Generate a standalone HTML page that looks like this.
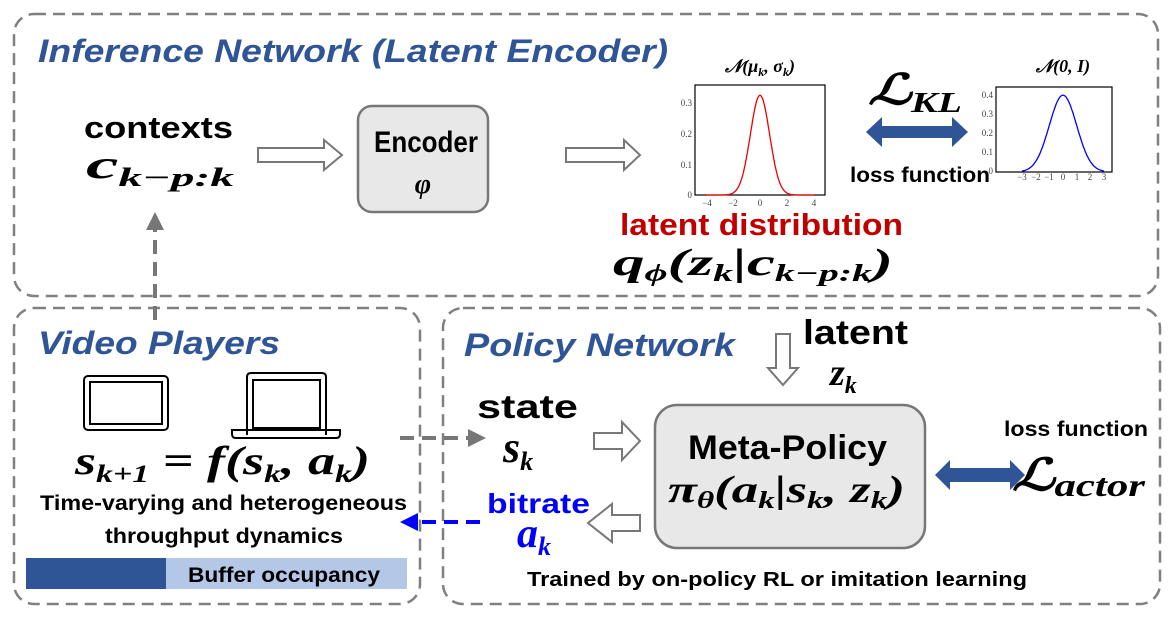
<!DOCTYPE html>
<html><head><meta charset="utf-8"><style>
html,body{margin:0;padding:0;background:#fff}
svg{display:block}
.t{font-family:"Liberation Sans",sans-serif;font-weight:bold}
.m{font-family:"Liberation Serif",serif;font-weight:bold;font-style:italic}
.h{font-family:"Liberation Sans",sans-serif;font-weight:bold;font-style:italic;fill:#2F5597}
.ax{font-family:"Liberation Serif",serif;font-size:9px;fill:#444}
</style></head><body>
<svg width="1172" height="626" viewBox="0 0 1172 626" xmlns="http://www.w3.org/2000/svg">
<g fill="none" stroke="#808080" stroke-width="2.5" stroke-dasharray="12,7">
<rect x="14" y="14" width="1144" height="282" rx="20"/>
<rect x="14" y="308" width="406" height="296" rx="20"/>
<rect x="443" y="308" width="717" height="296" rx="20"/>
</g>
<text x="38" y="62" class="h" font-size="32" textLength="630" lengthAdjust="spacingAndGlyphs">Inference Network (Latent Encoder)</text>
<text x="38" y="354" class="h" font-size="32" textLength="242" lengthAdjust="spacingAndGlyphs">Video Players</text>
<text x="464" y="356" class="h" font-size="32" textLength="271" lengthAdjust="spacingAndGlyphs">Policy Network</text>

<text x="84" y="138" class="t" font-size="31" textLength="149" lengthAdjust="spacingAndGlyphs">contexts</text>
<text x="86" y="178" class="m" font-size="40" textLength="148" lengthAdjust="spacingAndGlyphs">c<tspan font-size="26" dy="8">k−p:k</tspan></text>

<g fill="#fff" stroke="#777" stroke-width="2">
<path d="M258,148 H324 V140 L342,155 L324,170 V162 H258z"/>
<path d="M566,148 H624 V140 L640,155 L624,170 V162 H566z"/>
<path d="M776,334 H790 V368 H798 L783,385 L768,368 H776z"/>
<path d="M594,433 H622 V422 L640,441 L622,460 V449 H594z"/>
<path d="M640,515 H612 V504 L588,523 L612,542 V531 H640z"/>
</g>

<rect x="358" y="106" width="130" height="106" rx="14" fill="#e8e8e8" stroke="#777" stroke-width="2.5"/>
<text x="374" y="152" class="t" font-size="30" textLength="104" lengthAdjust="spacingAndGlyphs">Encoder</text>
<text x="423" y="193" class="m" font-size="28" text-anchor="middle">φ</text>

<text x="760" y="72" class="m" font-size="18" text-anchor="middle">𝒩(μ<tspan font-size="12" dy="4">k</tspan><tspan dy="-4">, σ</tspan><tspan font-size="12" dy="4">k</tspan><tspan dy="-4">)</tspan></text>
<rect x="695" y="85" width="130" height="110" fill="none" stroke="#000" stroke-width="1.2"/>
<path id="g1" fill="none" stroke="#e00" stroke-width="1.3"/>
<g class="ax"><text x="692" y="106" text-anchor="end">0.3</text><text x="692" y="137" text-anchor="end">0.2</text><text x="692" y="168" text-anchor="end">0.1</text><text x="692" y="198" text-anchor="end">0</text>
<text x="707" y="206" text-anchor="middle">−4</text><text x="733" y="206" text-anchor="middle">−2</text><text x="760" y="206" text-anchor="middle">0</text><text x="787" y="206" text-anchor="middle">2</text><text x="814" y="206" text-anchor="middle">4</text></g>

<text x="1063" y="72" class="m" font-size="18" text-anchor="middle">𝒩(0, I)</text>
<rect x="996" y="87" width="116" height="85" fill="none" stroke="#000" stroke-width="1.2"/>
<path id="g2" fill="none" stroke="#00f" stroke-width="1.3"/>
<g class="ax" font-size="7"><text x="993" y="98" text-anchor="end">0.4</text><text x="993" y="117" text-anchor="end">0.3</text><text x="993" y="136" text-anchor="end">0.2</text><text x="993" y="155" text-anchor="end">0.1</text><text x="993" y="174" text-anchor="end">0</text>
<text x="1022" y="180" text-anchor="middle">−3</text><text x="1036" y="180" text-anchor="middle">−2</text><text x="1049" y="180" text-anchor="middle">−1</text><text x="1063" y="180" text-anchor="middle">0</text><text x="1077" y="180" text-anchor="middle">1</text><text x="1090" y="180" text-anchor="middle">2</text><text x="1104" y="180" text-anchor="middle">3</text></g>

<text x="868" y="104" font-family="Liberation Serif,serif" font-style="italic" font-weight="bold" font-size="42" textLength="94" lengthAdjust="spacingAndGlyphs">ℒ<tspan font-size="28" dy="8">KL</tspan></text>
<path d="M866,132 L882,117 V126 H952 V117 L968,132 L952,147 V138 H882 V147z" fill="#2F5597"/>
<text x="850" y="182" class="t" font-size="21" textLength="140" lengthAdjust="spacingAndGlyphs">loss function</text>

<text x="620" y="235" class="t" font-size="31" fill="#C00000" textLength="283" lengthAdjust="spacingAndGlyphs">latent distribution</text>
<text x="613" y="275" class="m" font-size="38" textLength="280" lengthAdjust="spacingAndGlyphs">q<tspan font-size="24" dy="6">ϕ</tspan><tspan dy="-6">(z</tspan><tspan font-size="24" dy="6">k</tspan><tspan dy="-6">|c</tspan><tspan font-size="24" dy="6">k−p:k</tspan><tspan dy="-6">)</tspan></text>

<line x1="155" y1="320" x2="155" y2="228" stroke="#777" stroke-width="4" stroke-dasharray="14,8"/>
<path d="M146,230 L155,212 L164,230z" fill="#777"/>

<g fill="none" stroke="#000" stroke-width="2">
<rect x="84" y="376" width="84" height="54" rx="4"/><rect x="90" y="382" width="72" height="42"/>
<path d="M247,435 V377 Q247,373 251,373 H322 Q326,373 326,377 V435"/><rect x="253" y="380" width="67" height="48"/>
<path d="M232,430 H340 V434 Q340,438 336,438 H236 Q232,438 232,434z"/>
</g>
<text x="75" y="474" class="m" font-size="40" textLength="295" lengthAdjust="spacingAndGlyphs">s<tspan font-size="25" dy="8">k+1</tspan><tspan dy="-8"> = f(s</tspan><tspan font-size="25" dy="8">k</tspan><tspan dy="-8">, a</tspan><tspan font-size="25" dy="8">k</tspan><tspan dy="-8">)</tspan></text>
<text x="40" y="510" class="t" font-size="21" textLength="367" lengthAdjust="spacingAndGlyphs">Time-varying and heterogeneous</text>
<text x="105" y="543" class="t" font-size="21" textLength="238" lengthAdjust="spacingAndGlyphs">throughput dynamics</text>
<rect x="26" y="558" width="140" height="31" fill="#2F5597"/>
<rect x="166" y="558" width="241" height="31" fill="#B4C7E7"/>
<text x="188" y="582" class="t" font-size="21" textLength="192" lengthAdjust="spacingAndGlyphs">Buffer occupancy</text>

<line x1="400" y1="438" x2="470" y2="438" stroke="#777" stroke-width="4" stroke-dasharray="14,8"/>
<path d="M468,429 L486,438 L468,447z" fill="#777"/>
<line x1="480" y1="522" x2="418" y2="522" stroke="#00f" stroke-width="4" stroke-dasharray="14,8"/>
<path d="M418,513 L400,522 L418,531z" fill="#00f"/>

<text x="803" y="344" class="t" font-size="34" textLength="105" lengthAdjust="spacingAndGlyphs">latent</text>
<text x="830" y="385" class="m" font-size="38">z<tspan font-size="24" dy="8">k</tspan></text>
<text x="477" y="418" class="t" font-size="33" textLength="101" lengthAdjust="spacingAndGlyphs">state</text>
<text x="503" y="462" class="m" font-size="44">s<tspan font-size="26" dy="8">k</tspan></text>
<text x="487" y="513" class="t" font-size="28" fill="#0000ff" textLength="103" lengthAdjust="spacingAndGlyphs">bitrate</text>
<text x="517" y="547" class="m" font-size="42" fill="#0000ff">a<tspan font-size="26" dy="8">k</tspan></text>

<rect x="655" y="405" width="270" height="143" rx="22" fill="#e8e8e8" stroke="#777" stroke-width="2.5"/>
<text x="688" y="459" class="t" font-size="34" textLength="199" lengthAdjust="spacingAndGlyphs">Meta-Policy</text>
<text x="668" y="502" class="m" font-size="38" textLength="237" lengthAdjust="spacingAndGlyphs">π<tspan font-size="24" dy="6">θ</tspan><tspan dy="-6">(a</tspan><tspan font-size="24" dy="6">k</tspan><tspan dy="-6">|s</tspan><tspan font-size="24" dy="6">k</tspan><tspan dy="-6">, z</tspan><tspan font-size="24" dy="6">k</tspan><tspan dy="-6">)</tspan></text>

<path d="M935,475 L950,460 V468 H1010 V460 L1025,475 L1010,490 V482 H950 V490z" fill="#2F5597"/>
<text x="1004" y="436" class="t" font-size="21" textLength="144" lengthAdjust="spacingAndGlyphs">loss function</text>
<text x="1012" y="490" font-family="Liberation Serif,serif" font-style="italic" font-weight="bold" font-size="44" textLength="133" lengthAdjust="spacingAndGlyphs">ℒ<tspan font-size="32" dy="6">actor</tspan></text>

<text x="527" y="586" class="t" font-size="20" textLength="500" lengthAdjust="spacingAndGlyphs">Trained by on-policy RL or imitation learning</text>
</svg>
<script>
function g(id,cx,y0,pxu,pxv,sig,amp,lo,hi){var d="";for(var i=0;i<=160;i++){var x=lo+(hi-lo)*i/160;var v=amp*Math.exp(-x*x/(2*sig*sig));d+=(i?"L":"M")+(cx+x*pxu).toFixed(1)+","+(y0-v*pxv*10).toFixed(1);}document.getElementById(id).setAttribute("d",d);}
g("g1",760,195,13.4,30.7,0.72,0.325,-4,4);
g("g2",1063,172,13.7,19.2,1.0,0.4,-3,3);
</script>
</body></html>
